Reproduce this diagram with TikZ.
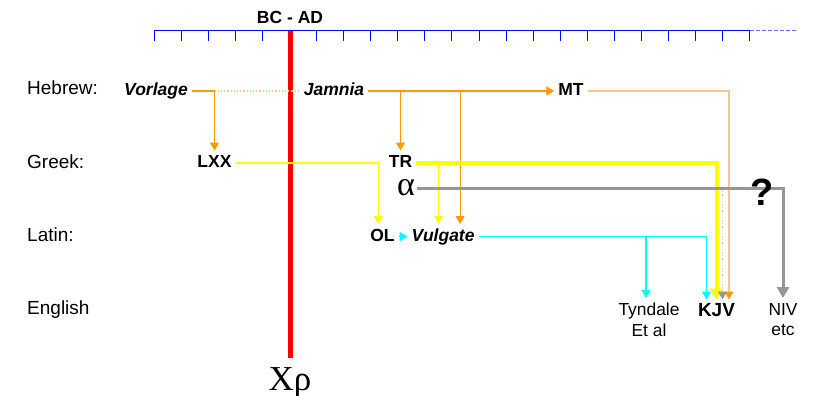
\documentclass[tikz,border=0pt]{standalone}
\usepackage{fontspec}
\setmainfont{Liberation Sans}
\newfontfamily\grkfont{Liberation Serif}
\usetikzlibrary{
    positioning,   % right=of
    arrows.meta    % Triangle tips
}
\definecolor{srcorange}{RGB}{255,153,0}
\definecolor{paleorange}{RGB}{255,196,140}
\definecolor{srcyellow}{RGB}{255,255,0}
\definecolor{srccyan}{RGB}{0,255,255}
\definecolor{srcgray}{RGB}{150,150,150}
\definecolor{dotgray}{RGB}{205,205,205}
\begin{document}
\begin{tikzpicture}[
        x=1pt, y=-1pt, >={Triangle[length=8pt,width=9pt]},
        row/.style={anchor=west, inner sep=0pt, font=\fontsize{19}{22}\selectfont, text height=13pt, text depth=4pt},
        txt/.style={inner sep=4pt, outer sep=0pt, font=\fontsize{17.5}{21}\selectfont\bfseries, text height=13pt, text depth=4pt},
        itl/.style={txt, font=\fontsize{17.5}{21}\selectfont\bfseries\itshape},
        engl/.style={anchor=north, align=center, inner sep=5pt, font=\fontsize{17.4}{20.6}\selectfont},
        orng/.style={->, draw=srcorange, line width=1.2pt},
        ylw/.style={->, draw=srcyellow, line width=1.2pt},
        cyn/.style={->, draw=srccyan, line width=1.2pt},
        gry/.style={-{Triangle[length=11pt,width=12pt]}, draw=srcgray, line width=3pt}]
    \useasboundingbox (0,0) rectangle (814,396);
    % time line
    \draw[blue, line width=1pt] (154,31) -- (750,31);
    \foreach \k in {0,...,22}
        \draw[blue, line width=1pt] ({154+27.09*\k},31) -- ++(0,10);
    \draw[blue!60, line width=1pt, dash pattern=on 4pt off 2pt] (750,31) -- (796,31);
    \draw[red, line width=5pt] (290,31) -- (290,358);
    \node[txt] (bcad) at (290,19.5) {BC - AD};
    \node[anchor=base, inner sep=0pt, font=\grkfont\fontsize{35}{40}\selectfont] (xrho) at (290,390) {Xρ};
    % languages
    \node[row] (heb) at (27,90.5)  {Hebrew:};
    \node[row] (grk) at (27,163.8) {Greek:};
    \node[row] (lat) at (27,237)   {Latin:};
    \node[row] (eng) at (27,309.5) {English};
    % texts
    \node[itl] (vorlage) at (156,91)   {Vorlage};
    \node[itl] (jamnia)  at (334,91)   {Jamnia};
    \node[txt] (mt)      at (571,91)   {MT};
    \node[txt] (lxx)     at (214.5,163) {LXX};
    \node[txt] (tr)      at (400.5,163) {TR};
    \node[inner sep=2pt, font=\grkfont\fontsize{34}{40}\selectfont] (alpha) at (406,188) {α};
    \node[txt] (ol)      at (382.5,236.5) {OL};
    \node[itl, right=9pt of ol] (vulgate) {Vulgate};
    \node[engl] (tyndale) at (649,298) {Tyndale\\Et al};
    \node[txt, font=\fontsize{19}{22}\selectfont\bfseries] (kjv) at (716.5,312) {KJV};
    \node[engl] (niv)     at (783,298) {NIV\\etc};
    % ports
    \coordinate (vg-or)  at ([xshift=17pt]vulgate.north);
    \coordinate (vg-yl)  at ([xshift=-4.5pt]vulgate.north);
    \coordinate (kjv-cy) at ([xshift=-10pt]kjv.north);
    \coordinate (kjv-gr) at ([xshift=6pt]kjv.north);
    \coordinate (kjv-or) at ([xshift=12.5pt]kjv.north);
    % hebrew lines
    \draw[orng] (vorlage.east) -| (lxx.north);
    \draw[draw=paleorange, line width=1.2pt, dotted] (vorlage.east -| lxx.north) -- (jamnia.west);
    \draw[orng] (jamnia.east) -| (tr.north);
    \draw[orng] (jamnia.east) -- (mt.west);
    \draw[orng] (jamnia.east -| vg-or) -- (vg-or);
    \draw[draw=paleorange, line width=1.2pt, -{Triangle[length=8pt,width=9pt,color=srcorange]}] (mt.east) -| (kjv-or);
    % greek lines
    \draw[ylw] (lxx.east) -| ([xshift=-4pt]ol.north);
    \draw[ylw] (tr.east -| vg-yl) -- (vg-yl);
    \draw[ylw, line width=4pt, -{Triangle[length=11pt,width=13pt]}] (tr.east) -| (kjv.north);
    \draw[draw=dotgray, line width=1.2pt, dotted, -{Triangle[length=8pt,width=9pt,color=srcgray]}] (alpha.east -| kjv-gr) -- (kjv-gr);
    \draw[gry] (alpha.east) -| (niv.north);
    \node[anchor=base, inner sep=0pt, font=\fontsize{38}{40}\selectfont\bfseries] (qm) at (762,205) {?};
    % latin lines
    \draw[cyn] (ol.east) -- (vulgate.west);
    \draw[cyn] (vulgate.east) -| (kjv-cy);
    \draw[cyn] (vulgate.east -| tyndale.north) ++(-3,0) -- ([xshift=-3pt]tyndale.north);
\end{tikzpicture}
\end{document}
